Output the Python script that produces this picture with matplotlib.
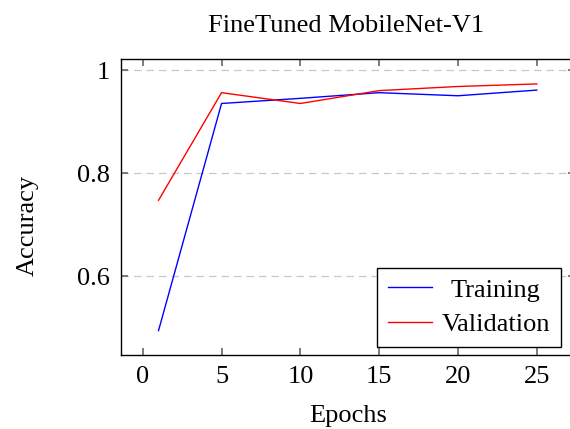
import matplotlib
matplotlib.use("Agg")
import matplotlib.pyplot as plt
from matplotlib.transforms import ScaledTranslation

# values
epochs = [1, 5, 10, 15, 20, 25]
training = [0.494, 0.935, 0.945, 0.956, 0.950, 0.961]
validation = [0.747, 0.956, 0.935, 0.960, 0.968, 0.973]
x_ticks = [0, 5, 10, 15, 20, 25]
y_ticks = [0.6, 0.8, 1.0]
y_tick_labels = ["0.6", "0.8", "1"]

FS = 19
plt.rcParams["font.family"] = ["Liberation Serif", "DejaVu Serif"]
plt.rcParams["font.size"] = FS

W, H = 570, 429
fig = plt.figure(figsize=(W / 100, H / 100), dpi=100)

# axes box in pixels (left, top, right, bottom)
l, t, r, b = 120.7, 59.3, 574.6, 355.0
ax = fig.add_axes([l / W, 1 - b / H, (r - l) / W, (b - t) / H])

ax.plot(epochs, training, color="#0000ff", lw=1.0, label="Training", zorder=2)
ax.plot(epochs, validation, color="#ff0000", lw=1.0, label="Validation", zorder=2)

ax.set_xlim(-1.4, 27.4)
ax.set_ylim(0.4466, 1.0208)
ax.set_xticks(x_ticks)
ax.set_yticks(y_ticks)
ax.set_yticklabels(y_tick_labels)

ax.tick_params(direction="in", length=5, width=1.2, color="#666666",
               top=True, right=True, labelsize=FS, pad=8)
ax.yaxis.grid(True, linestyle=(0, (6, 4)), color="#c8c8c8", lw=0.9)
for sp in ax.spines.values():
    sp.set_linewidth(1.0)
    sp.set_color("black")

leg = ax.legend(loc="lower right", bbox_to_anchor=(560.7 / W, 1 - 346.7 / H),
                bbox_transform=fig.transFigure, fancybox=False, framealpha=1,
                edgecolor="black", fontsize=FS, handlelength=1.7,
                borderpad=0.4, labelspacing=0.42, handletextpad=0.35,
                borderaxespad=0)
leg.get_frame().set_linewidth(1.0)
leg.set_zorder(5)

fig.text(346 / W, 1 - 31.7 / H, "FineTuned MobileNet-V1", ha="center",
         va="baseline", fontsize=FS)
fig.text(348 / W, 1 - 421.7 / H, "Epochs", ha="center", va="baseline",
         fontsize=FS)
fig.text(27.5 / W, 1 - 225 / H, "Accuracy", ha="center", va="center",
         rotation=90, fontsize=FS)

# centre the shorter legend entry like the reference
fig.canvas.draw()
texts = leg.get_texts()
widths = [tx.get_window_extent().width for tx in texts]
wmax = max(widths)
for tx, w in zip(texts, widths):
    dx = (wmax - w) / 2 / fig.dpi
    tx.set_transform(tx.get_transform() + ScaledTranslation(dx, 0, fig.dpi_scale_trans))

fig.savefig("out.png", dpi=100)
